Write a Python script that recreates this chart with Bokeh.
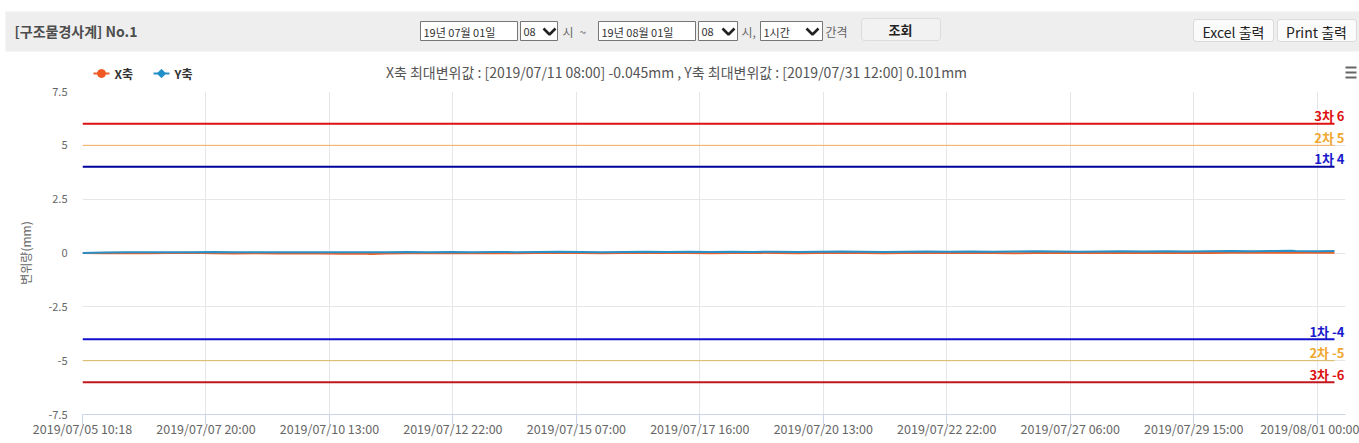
import math
from bokeh.plotting import figure
from bokeh.layouts import column
from bokeh.models import (Range1d, FixedTicker, BoxAnnotation, ColumnDataSource)
from bokeh.core.properties import value
from bokeh.embed import file_html
from bokeh.resources import INLINE

FONT = "Noto Sans CJK KR"

# ---------------- data ----------------
x_index = [0, 10, 20, 30, 40, 50, 60, 70, 80, 90, 100, 110, 120, 130, 133, 140, 150,
           160, 170, 180, 190, 200, 210, 220, 230, 240, 250, 260, 270, 280, 290, 300,
           310, 320, 330, 340, 350, 360, 370, 380, 390, 400, 410, 420, 430, 440, 450,
           460, 470, 480, 490, 500, 510, 520, 530, 540, 550, 558, 560, 570, 578]
x_axis_vals = [0.00, -0.01, 0.00, -0.01, 0.00, 0.01, -0.01, -0.02, -0.01, -0.02, -0.01,
               -0.02, -0.03, -0.02, -0.045, -0.02, -0.01, -0.01, 0.00, -0.01, 0.00, -0.01,
               0.00, 0.01, 0.00, -0.01, 0.00, 0.01, 0.00, 0.00, -0.01, 0.00, 0.01, 0.00,
               -0.01, 0.00, 0.01, 0.00, -0.01, 0.00, 0.01, 0.00, 0.01, 0.00, -0.01, 0.00,
               0.01, 0.00, 0.01, 0.00, 0.01, 0.00, 0.01, 0.00, 0.01, 0.02, 0.01, 0.01,
               0.02, 0.01, 0.01]
y_axis_vals = [0.00, 0.02, 0.03, 0.04, 0.03, 0.04, 0.05, 0.04, 0.03, 0.04, 0.03, 0.04,
               0.03, 0.04, 0.03, 0.04, 0.05, 0.04, 0.05, 0.04, 0.05, 0.04, 0.05, 0.06,
               0.05, 0.04, 0.05, 0.06, 0.05, 0.06, 0.05, 0.06, 0.05, 0.06, 0.05, 0.06,
               0.07, 0.06, 0.05, 0.06, 0.07, 0.06, 0.07, 0.06, 0.07, 0.08, 0.07, 0.06,
               0.07, 0.08, 0.07, 0.08, 0.07, 0.08, 0.09, 0.08, 0.09, 0.101, 0.09, 0.08,
               0.09]
n_categories = 579
tick_step = 57
tick_labels = ["2019/07/05 10:18", "2019/07/07 20:00", "2019/07/10 13:00",
               "2019/07/12 22:00", "2019/07/15 07:00", "2019/07/17 16:00",
               "2019/07/20 13:00", "2019/07/22 22:00", "2019/07/27 06:00",
               "2019/07/29 15:00", "2019/08/01 00:00"]
y_ticks = [-7.5, -5, -2.5, 0, 2.5, 5, 7.5]
y_tick_labels = ["-7.5", "-5", "-2.5", "0", "2.5", "5", "7.5"]
thresh_values = [6, 5, 4, -4, -5, -6]
thresh_labels = ["3차 6", "2차 5", "1차 4", "1차 -4", "2차 -5", "3차 -6"]
series_names = ["X축", "Y축"]
chart_title = ("X축 최대변위값 : [2019/07/11 08:00] -0.045mm , "
               "Y축 최대변위값 : [2019/07/31 12:00] 0.101mm")
y_title = "변위량(mm)"

# header texts
hdr_title = "[구조물경사계] No.1"
hdr_inputs = ["19년 07월 01일", "08", "19년 08월 01일", "08", "1시간"]
hdr_words = ["시", "~", "시,", "간격"]
hdr_buttons = ["조회", "Excel 출력", "Print 출력"]

# ---------------- layout constants (pixels) ----------------
W = 1359
H_HDR = 82
H_MAIN = 443 - H_HDR
FRAME_L, DATA_R, FRAME_R = 82, 1334, 1345
FRAME_T, FRAME_B = 91, 414

X_COL, Y_COL = "#e8602c", "#2a8fc4"
X_MARK, Y_MARK = "#f05a22", "#1f8fca"

# ---------------- header figure (page pixel coordinates) ----------------
hdr = figure(width=W, height=H_HDR, x_range=Range1d(0, W), y_range=Range1d(H_HDR, 0),
             output_backend="svg", toolbar_location=None, min_border=0)
hdr.axis.visible = False
hdr.grid.visible = False
hdr.outline_line_color = None
hdr.background_fill_color = "white"
hdr.border_fill_color = "white"
try:
    hdr.frame_align = False
except Exception:
    pass

hdr.quad(left=[5], right=[W], top=[11], bottom=[51], fill_color="#eeeeee",
         line_color=None, level="image")
for (l, r, t, b, fc, lc) in [(861, 940, 18, 40, "#f2f2f2", "#b0b0b0"),
                             (1193, 1273, 19, 41, "#fbfbfb", "#9a9a9a"),
                             (1277, 1356, 19, 41, "#fbfbfb", "#9a9a9a")]:
    hdr.add_layout(BoxAnnotation(left=l, right=r, top=t, bottom=b, fill_color=fc,
                                 fill_alpha=1, line_color=lc, line_width=1,
                                 border_radius=3, level="underlay"))
box_l = [420, 520, 598, 698, 760]
box_r = [517, 557, 695, 737, 822]
hdr.quad(left=box_l, right=box_r, top=[21] * 5, bottom=[40] * 5,
         fill_color="white", line_color="#767676", line_width=1)
chev = [549, 728, 812]
hdr.multi_line(xs=[[c - 6, c, c + 6] for c in chev], ys=[[28, 34, 28]] * 3,
               line_color="#222222", line_width=2.6)

hdr.text(x=[14], y=[30], text=[hdr_title], text_font=value(FONT),
         text_font_size="14px", text_font_style="bold", text_color="#4d4d4d",
         text_baseline="middle")
hdr.text(x=[423, 523, 601, 701, 763], y=[31] * 5, text=hdr_inputs,
         text_font=value(FONT), text_font_size="11px", text_color="#333333",
         text_baseline="middle")
hdr.text(x=[562, 579, 741, 825], y=[31] * 4, text=hdr_words, text_font=value(FONT),
         text_font_size="12px", text_color="#666666", text_baseline="middle")
hdr.text(x=[900], y=[29], text=[hdr_buttons[0]], text_font=value(FONT),
         text_font_size="13px", text_font_style="bold", text_color="#222222",
         text_baseline="middle", text_align="center")
hdr.text(x=[1233, 1316], y=[31, 31], text=hdr_buttons[1:], text_font=value(FONT),
         text_font_size="14px", text_color="#222222",
         text_baseline="middle", text_align="center")

# chart title
hdr.text(x=[676], y=[71], text=[chart_title], text_font=value(FONT),
         text_font_size="14px", text_color="#555555", text_baseline="middle",
         text_align="center")
# legend (symbol line + marker + label) for the two series
leg_x = [93, 153]
leg_y = 73
hdr.segment(x0=leg_x, x1=[x + 16 for x in leg_x], y0=[leg_y] * 2, y1=[leg_y] * 2,
            line_color=[X_COL, Y_COL], line_width=2)
hdr.scatter(x=[leg_x[0] + 8], y=[leg_y], marker="circle", size=8,
            fill_color=X_MARK, line_color=X_MARK)
hdr.scatter(x=[leg_x[1] + 8], y=[leg_y], marker="square", angle=math.pi / 4, size=6,
            fill_color=Y_MARK, line_color=Y_MARK)
hdr.text(x=[x + 21 for x in leg_x], y=[leg_y] * 2, text=series_names,
         text_font=value(FONT), text_font_size="12px", text_font_style="bold",
         text_color="#333333", text_baseline="middle")
# menu icon
hdr.segment(x0=[1345] * 3, x1=[1356] * 3, y0=[67, 72, 77], y1=[67, 72, 77],
            line_color="#666666", line_width=2)

# ---------------- main chart ----------------
last = n_categories - 1
x_end = last * (FRAME_R - FRAME_L) / (DATA_R - FRAME_L)
p = figure(width=W, height=H_MAIN, x_range=Range1d(0, x_end),
           y_range=Range1d(-7.5, 7.5), output_backend="svg", toolbar_location=None,
           min_border_left=FRAME_L, min_border_right=W - FRAME_R,
           min_border_top=FRAME_T - H_HDR, min_border_bottom=443 - FRAME_B)
p.outline_line_color = None
p.background_fill_color = "white"
p.border_fill_color = "white"
try:
    p.frame_align = False
except Exception:
    pass

xt = [i * tick_step for i in range(len(tick_labels))]
p.xaxis.ticker = FixedTicker(ticks=xt)
p.xaxis.major_label_overrides = {t: s for t, s in zip(xt, tick_labels)}
p.xaxis.axis_line_color = "#ccd6eb"
p.xaxis.major_tick_line_color = "#ccd6eb"
p.xaxis.major_tick_out = 10
p.xaxis.major_tick_in = 0
p.xaxis.minor_tick_line_color = None
p.xaxis.major_label_standoff = -6
p.xaxis.major_label_text_font = FONT
p.xaxis.major_label_text_font_size = "12.5px"
p.xaxis.major_label_text_color = "#666666"
p.xgrid.ticker = FixedTicker(ticks=xt)
p.xgrid.grid_line_color = "#e6e6e6"

p.yaxis.ticker = FixedTicker(ticks=y_ticks)
p.yaxis.major_label_overrides = {t: s for t, s in zip(y_ticks, y_tick_labels)}
p.yaxis.axis_line_color = None
p.yaxis.major_tick_line_color = None
p.yaxis.minor_tick_line_color = None
p.yaxis.major_tick_out = 0
p.yaxis.major_tick_in = 0
p.yaxis.major_label_standoff = 15
p.yaxis.major_label_text_font = FONT
p.yaxis.major_label_text_font_size = "11px"
p.yaxis.major_label_text_color = "#666666"
p.yaxis.axis_label = y_title
p.yaxis.axis_label_text_font = FONT
p.yaxis.axis_label_text_font_size = "12px"
p.yaxis.axis_label_text_font_style = "normal"
p.yaxis.axis_label_text_color = "#666666"
p.yaxis.axis_label_standoff = 11
p.ygrid.grid_line_color = "#e6e6e6"

# threshold lines + labels
tsrc = ColumnDataSource(dict(
    v=thresh_values, lab=thresh_labels, x0=[0] * 6, x1=[last] * 6,
    lc=["#dd1111", "#f4b060", "#00009c", "#1010cc", "#d8b860", "#c0161e"],
    lw=[2, 1, 2, 2, 1, 2],
    tc=["#dd1111", "#f0a830", "#1a1acc", "#1a1acc", "#f0a830", "#dd1111"]))
p.segment(x0="x0", x1="x1", y0="v", y1="v", line_color="lc", line_width="lw",
          source=tsrc)
p.text(x="x1", y="v", text="lab", source=tsrc, x_offset=10, y_offset=-8,
       text_align="right", text_baseline="middle", text_font=value(FONT),
       text_font_size="13px", text_font_style="bold", text_color="tc")

src = ColumnDataSource(dict(i=x_index, xv=x_axis_vals, yv=y_axis_vals))
p.line("i", "xv", source=src, line_color=X_COL, line_width=2)
p.line("i", "yv", source=src, line_color=Y_COL, line_width=2)

layout = column(hdr, p, spacing=0)
open("out.html", "w").write(file_html(layout, INLINE))
